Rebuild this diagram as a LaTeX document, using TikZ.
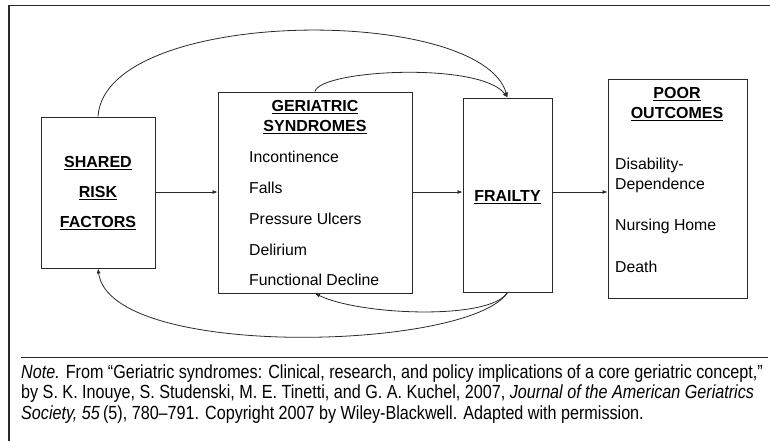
\documentclass[tikz,border=0pt]{standalone}
\usepackage{fontspec}
\setmainfont{Liberation Sans}
\newfontfamily\notefont[FakeStretch=0.85]{Liberation Sans}
\usetikzlibrary{arrows.meta}
\definecolor{ink}{HTML}{2A2A2A}
\newcommand{\hd}[1]{\underline{\textbf{#1}}}
\begin{document}
\begin{tikzpicture}[x=1pt,y=-1pt,
  box/.style={draw=ink,line width=0.9pt,inner sep=0pt},
  head/.style={inner sep=0pt,align=center,font=\fontsize{16}{20}\selectfont},
  item/.style={inner sep=0pt,anchor=west,font=\fontsize{15.8}{20.5}\selectfont},
  note/.style={inner sep=0pt,anchor=base west,text=black,font=\notefont\fontsize{19}{21}\selectfont},
  link/.style={draw=ink,line width=0.8pt,-{Latex[length=5pt,width=4pt]}}]
\useasboundingbox (0,0) rectangle (770,441);

% outer frame and caption rule
\draw[ink,line width=1.2pt] (9,441) |- (770,5.5);
\draw[ink,line width=1pt] (21,357) -- (768,357);

% boxes
\node[box,minimum width=114,minimum height=151] (srf) at (98,192.5) {};
\node[box,minimum width=194,minimum height=201] (gs) at (315,192.5) {};
\node[box,minimum width=89,minimum height=194] (fr) at (507.5,195) {};
\node[box,minimum width=139,minimum height=219] (po) at (677.5,188.5) {};

% shared risk factors
\node[head] (srf1) at (98,163) {\hd{SHARED}};
\node[head] (srf2) at (98,193) {\hd{RISK}};
\node[head] (srf3) at (98,223) {\hd{FACTORS}};

% geriatric syndromes
\node[head] (gsh) at (315,117) {\hd{GERIATRIC}\\\hd{SYNDROMES}};
\node[item] (g1) at (249,157) {Incontinence};
\node[item] (g2) at (249,188) {Falls};
\node[item] (g3) at (249,219) {Pressure Ulcers};
\node[item] (g4) at (249,249.5) {Delirium};
\node[item] (g5) at (249,280) {Functional Decline};

% frailty
\node[head] (frh) at (507.5,197) {\hd{FRAILTY}};

% poor outcomes
\node[head] (poh) at (677,104) {\hd{POOR}\\\hd{OUTCOMES}};
\node[item,align=left] (p1) at (615,175.5) {Disability-\\Dependence};
\node[item] (p2) at (615,226) {Nursing Home};
\node[item] (p3) at (615,267) {Death};

% straight links
\draw[link] (srf.east |- 0,192) -- (gs.west |- 0,192);
\draw[link] (gs.east |- 0,192) -- (fr.west |- 0,192);
\draw[link] (fr.east |- 0,192) -- (po.west |- 0,192);

% feedback curves
\draw[link] (srf.north) .. controls +(7,-110) and +(-27,-93) .. (fr.north);
\draw[link] (gs.north) .. controls +(5,-22) and +(-27,-36) .. (fr.north);
\draw[link] (fr.south) .. controls +(-17,28) and +(45,22) .. (gs.south);
\draw[link] (fr.south) .. controls +(-37,58) and +(12,92) .. (srf.south);

% caption
\node[note] (note1) at (21,378) {\textit{Note.} From “Geriatric syndromes: Clinical, research, and policy implications of a core geriatric concept,”};
\node[note] (note2) at (21,398.5) {by S. K. Inouye, S. Studenski, M. E. Tinetti, and G. A. Kuchel, 2007, \textit{Journal of the American Geriatrics}};
\node[note] (note3) at (21,419) {\textit{Society, 55}\,(5), 780–791. Copyright 2007 by Wiley-Blackwell. Adapted with permission.};
\end{tikzpicture}
\end{document}
